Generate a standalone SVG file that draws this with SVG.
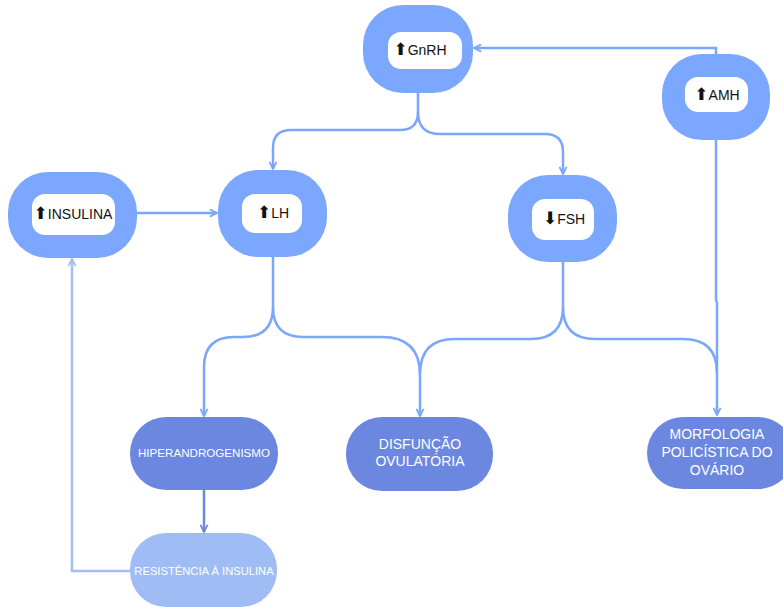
<svg xmlns="http://www.w3.org/2000/svg" width="783" height="607" viewBox="0 0 783 607">
<defs>
<style>
.outer{fill:#7ba7ff}
.inner{fill:#ffffff}
.lbl{font-family:"Liberation Sans",Arial,sans-serif;font-size:14px;fill:#111;text-anchor:middle}
.arr{font-family:"DejaVu Sans",sans-serif;font-size:17px}
.dark{fill:#6b87df}
.light{fill:#a0bcf4}
.wt{font-family:"Liberation Sans",Arial,sans-serif;fill:#fff;text-anchor:middle}
.con{fill:none;stroke:#7aa7fd;stroke-width:2.5}
</style>
<marker id="ah" viewBox="0 0 10 10" refX="9" refY="5" markerWidth="9" markerHeight="9" markerUnits="userSpaceOnUse" orient="auto">
<path d="M1,1 L9,5 L1,9" fill="none" stroke="#7aa7fd" stroke-width="2"/>
</marker>
<marker id="ahd" viewBox="0 0 10 10" refX="9" refY="5" markerWidth="9" markerHeight="9" markerUnits="userSpaceOnUse" orient="auto">
<path d="M1,1 L9,5 L1,9" fill="none" stroke="#6b87df" stroke-width="2"/>
</marker>
<marker id="ahl" viewBox="0 0 10 10" refX="9" refY="5" markerWidth="9" markerHeight="9" markerUnits="userSpaceOnUse" orient="auto">
<path d="M1,1 L9,5 L1,9" fill="none" stroke="#a3bdf6" stroke-width="2"/>
</marker>
</defs>
<rect width="783" height="607" fill="#fff"/>
<g id="connectors">
<path class="con" d="M418,93 V112 Q418,130 400,130 H291 Q273,130 273,148 V169" marker-end="url(#ah)"/>
<path class="con" d="M418,112 Q418,134 440,134 H545 Q563,134 563,152 V174" marker-end="url(#ah)"/>
<path class="con" d="M716,54 V48 H474" marker-end="url(#ah)"/>
<path class="con" d="M716,140 V300 L717,303 V415" marker-end="url(#ah)"/>
<path class="con" d="M137,213 H217" marker-end="url(#ah)"/>
<path class="con" d="M273,257 V307 Q273,337 243,337 H234 Q204,337 204,367 V416" marker-end="url(#ah)"/>
<path class="con" d="M273,307 Q273,337 303,337 H382 Q420,337 420,375 V416" marker-end="url(#ah)"/>
<path class="con" d="M563,262 V307 Q563,339 531,339 H455 Q420,339 420,374"/>
<path class="con" d="M563,307 Q563,339 595,339 H683 Q717,339 717,373"/>
<path fill="none" stroke="#6b87df" stroke-width="2.5" d="M204,490 V532" marker-end="url(#ahd)"/>
<path fill="none" stroke="#a3bdf6" stroke-width="2.5" d="M130,571 H72 V259" marker-end="url(#ahl)"/>
</g>
<g id="gnrh">
<rect class="outer" x="363" y="5" width="110" height="88" rx="40"/>
<rect class="inner" x="388" y="32" width="74" height="37" rx="13"/>
<text class="lbl" x="420" y="55"><tspan class="arr">⬆</tspan>GnRH</text>
</g>
<g id="amh">
<rect class="outer" x="662" y="54" width="108" height="86" rx="40"/>
<rect class="inner" x="685" y="77" width="63" height="35" rx="13"/>
<text class="lbl" x="717" y="100"><tspan class="arr">⬆</tspan>AMH</text>
</g>
<g id="insulina">
<rect class="outer" x="8" y="172" width="129" height="86" rx="40"/>
<rect class="inner" x="32" y="194" width="83" height="41" rx="13"/>
<text class="lbl" x="73" y="219"><tspan class="arr">⬆</tspan>INSULINA</text>
</g>
<g id="lh">
<rect class="outer" x="218" y="170" width="109" height="87" rx="40"/>
<rect class="inner" x="242" y="194" width="60" height="39" rx="13"/>
<text class="lbl" x="273" y="218"><tspan class="arr">⬆</tspan>LH</text>
</g>
<g id="fsh">
<rect class="outer" x="508" y="175" width="109" height="87" rx="40"/>
<rect class="inner" x="532" y="199" width="62" height="41" rx="13"/>
<text class="lbl" x="564" y="224"><tspan class="arr">⬇</tspan>FSH</text>
</g>
<g id="hiperandrogenismo">
<rect class="dark" x="130" y="417" width="148" height="73" rx="36"/>
<text class="wt" x="204" y="457" font-size="11.6">HIPERANDROGENISMO</text>
</g>
<g id="resistencia">
<rect class="light" x="130" y="533" width="147" height="74" rx="36"/>
<text class="wt" x="204" y="575" font-size="11.2">RESISTÊNCIA À INSULINA</text>
</g>
<g id="disfuncao">
<rect class="dark" x="346" y="417" width="147" height="74" rx="36"/>
<text class="wt" x="420" y="449" font-size="14">DISFUNÇÃO</text>
<text class="wt" x="420" y="466" font-size="14">OVULATÓRIA</text>
</g>
<g id="morfologia">
<rect class="dark" x="647" y="417" width="147" height="72" rx="36"/>
<text class="wt" x="717" y="439" font-size="14">MORFOLOGIA</text>
<text class="wt" x="717" y="457" font-size="14">POLICÍSTICA DO</text>
<text class="wt" x="717" y="475" font-size="14">OVÁRIO</text>
</g>
</svg>
